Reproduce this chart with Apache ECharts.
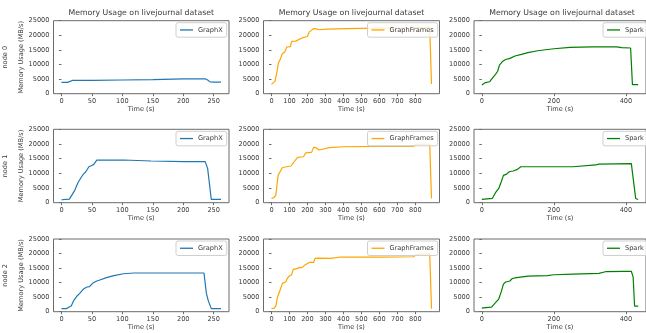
<!DOCTYPE html>
<html><head><meta charset="utf-8">
<script src="https://cdn.jsdelivr.net/npm/echarts@6/dist/echarts.min.js"></script>
<style>html,body{margin:0;padding:0;background:#fff}#c{width:646px;height:333px}</style>
</head><body><div id="c"></div>
<script>
// ---- data ----
const systems = ['GraphX', 'GraphFrames', 'Spark'];
const nodes = ['node 0', 'node 1', 'node 2'];
const titleText = 'Memory Usage on livejournal dataset';
const xTicksGraphX = [0, 50, 100, 150, 200, 250];
const xTicksGraphFrames = [0, 100, 200, 300, 400, 500, 600, 700, 800];
const xTicksSpark = [0, 200, 400];
const yTicks = [0, 5000, 10000, 15000, 20000, 25000];

const graphxNode0 = [[0,3850],[10,3900],[14,4200],[18,4550],[50,4550],[100,4700],[150,4850],[200,5050],[236,5100],[240,4700],[244,4050],[250,3950],[262,3950]];
const graphframesNode0 = [[0,3200],[10,3700],[20,4300],[25,4600],[32,8000],[38,10400],[50,12000],[60,13700],[75,14400],[85,16000],[105,16100],[112,17900],[135,18000],[145,18600],[170,19100],[200,19600],[208,21000],[220,21600],[235,22300],[250,22200],[265,21900],[310,22100],[420,22300],[600,22450],[800,22550],[880,22700],[890,3300]];
const sparkNode0 = [[0,2950],[10,3800],[22,4100],[31,5600],[38,6600],[44,7700],[49,9800],[57,11000],[66,11700],[78,12100],[92,12900],[110,13450],[128,14050],[155,14700],[200,15400],[245,15850],[307,16050],[375,16050],[388,15750],[413,15650],[418,3100],[434,3100]];

const graphxNode1 = [[0,1000],[13,1200],[16,1800],[22,4300],[27,6800],[33,8850],[36,9750],[40,10550],[45,12250],[49,12600],[53,13050],[58,14500],[61,14650],[102,14550],[147,14200],[202,14000],[236,14000],[240,11700],[246,1100],[262,1100]];
const graphframesNode1 = [[0,1450],[15,1800],[24,2600],[37,9400],[46,9750],[61,12000],[70,12450],[108,12500],[113,13050],[126,13950],[145,15450],[178,15650],[191,17000],[200,16800],[223,17150],[234,18850],[247,18750],[265,17950],[275,18600],[321,18750],[404,19050],[608,19200],[790,19200],[803,19850],[880,20000],[890,1450]];
const sparkNode1 = [[0,1100],[29,1450],[38,3400],[47,4850],[54,7150],[60,9300],[69,9750],[76,10550],[87,10800],[99,11350],[108,12250],[128,12250],[253,12250],[258,12850],[316,12850],[325,13150],[415,13300],[427,1450],[434,1100]];

const graphxNode2 = [[0,1050],[8,1050],[12,1500],[16,1950],[20,3800],[26,5500],[30,6300],[36,7800],[42,8500],[46,8600],[51,9750],[58,10550],[63,10900],[74,11700],[86,12400],[102,13050],[119,13300],[234,13300],[238,6300],[241,3800],[246,1050],[262,1050]];
const graphframesNode2 = [[0,1050],[15,1250],[24,1950],[33,4950],[48,7450],[61,9750],[80,10300],[85,11150],[98,12250],[111,12600],[121,14550],[141,14800],[154,15250],[169,15150],[182,15850],[195,16400],[210,16950],[234,16950],[243,18350],[256,18450],[330,18350],[386,18800],[608,18800],[790,18900],[803,19600],[880,19950],[890,1050]];
const sparkNode2 = [[0,1250],[11,1400],[27,1600],[31,2050],[38,3100],[47,4350],[54,6900],[60,9500],[66,10200],[78,10550],[84,11350],[92,11600],[96,12250],[128,12250],[182,12400],[200,12700],[253,12950],[325,13200],[343,13750],[396,13900],[415,13900],[420,11900],[424,1950],[434,1950]];

const seriesData = [
  [graphxNode0, graphframesNode0, sparkNode0],
  [graphxNode1, graphframesNode1, sparkNode1],
  [graphxNode2, graphframesNode2, sparkNode2]
];
const xTicks = [xTicksGraphX, xTicksGraphFrames, xTicksSpark];
const xEnd = [262, 890, 434];

// ---- layout / style ----
const colors = ['#1f77b4', '#ffa500', '#008000'];
const FONT = 'DejaVu Sans';
const TXT = '#3a3a3a';
const SPINE = '#6b6b6b';
const colL = [53.5, 263.5, 474];
const colW = [175.5, 176, 176];
const rowT = [20.7, 129.3, 239];
const rowH = [73, 73.4, 72.7];
const legendLeft = [176, 367.5, 603];

const grid = [], xAxis = [], yAxis = [], series = [], legend = [], title = [], graphic = [];
for (let r = 0; r < 3; r++) {
  for (let c = 0; c < 3; c++) {
    const i = r * 3 + c;
    grid.push({left: colL[c], top: rowT[r], width: colW[c], height: rowH[r], show: true,
      borderColor: SPINE, borderWidth: 1, backgroundColor: 'transparent', containLabel: false});
    const m = xEnd[c] * 0.05;
    xAxis.push({type: 'value', gridIndex: i, min: -m, max: xEnd[c] + m,
      splitLine: {show: false}, axisLine: {show: false},
      axisTick: {show: true, inside: false, length: 2.5, lineStyle: {color: SPINE, width: 1}, customValues: xTicks[c]},
      axisLabel: {fontFamily: FONT, fontSize: 6.6, color: TXT, margin: 4, customValues: xTicks[c],
        formatter: v => String(v)},
      name: 'Time (s)', nameLocation: 'middle', nameGap: 12,
      nameTextStyle: {fontFamily: FONT, fontSize: 6.6, color: TXT}});
    const ya = {type: 'value', gridIndex: i, min: yTicks[0], max: yTicks[yTicks.length - 1],
      splitLine: {show: false}, axisLine: {show: false},
      axisTick: {show: true, inside: false, length: 2.5, lineStyle: {color: SPINE, width: 1}, customValues: yTicks},
      axisLabel: {fontFamily: FONT, fontSize: 6.6, color: TXT, margin: 4, customValues: yTicks,
        formatter: v => String(v)}};
    if (c === 0) {
      ya.name = 'Memory Usage (MB/s)'; ya.nameLocation = 'middle'; ya.nameGap = 28;
      ya.nameTextStyle = {fontFamily: FONT, fontSize: 6.6, color: TXT};
    }
    yAxis.push(ya);
    series.push({type: 'line', name: systems[c], xAxisIndex: i, yAxisIndex: i,
      data: seriesData[r][c], symbol: 'none', showSymbol: false, animation: false,
      lineStyle: {color: colors[c], width: 1.2}, itemStyle: {color: colors[c]}, z: 2});
    legend.push({data: [{name: systems[c], icon: 'rect'}], left: legendLeft[c], top: rowT[r] + 2,
      orient: 'horizontal', itemWidth: 13, itemHeight: 1.3, itemGap: 5,
      padding: [3, 4, 3, 4], borderColor: '#cfcfcf', borderWidth: 1, borderRadius: 2,
      backgroundColor: 'rgba(255,255,255,0.8)', selectedMode: false,
      itemStyle: {color: colors[c]},
      textStyle: {fontFamily: FONT, fontSize: 6.6, color: TXT, lineHeight: 8.5}, z: 5});
    if (r === 0) {
      title.push({text: titleText, left: colL[c] + colW[c] / 2, top: 9, textAlign: 'center',
        textStyle: {fontFamily: FONT, fontSize: 7.8, fontWeight: 'normal', color: TXT}, padding: 0});
    }
  }
  graphic.push({type: 'text', x: 5.5, y: rowT[r] + rowH[r] / 2, rotation: Math.PI / 2,
    style: {text: nodes[r], fontFamily: FONT, fontSize: 6.6, fill: TXT, align: 'center', verticalAlign: 'middle'}});
}

const chart = echarts.init(document.getElementById('c'), null, {renderer: 'canvas'});
chart.setOption({animation: false, backgroundColor: '#fff', title, grid, xAxis, yAxis, series, legend, graphic});
</script></body></html>
